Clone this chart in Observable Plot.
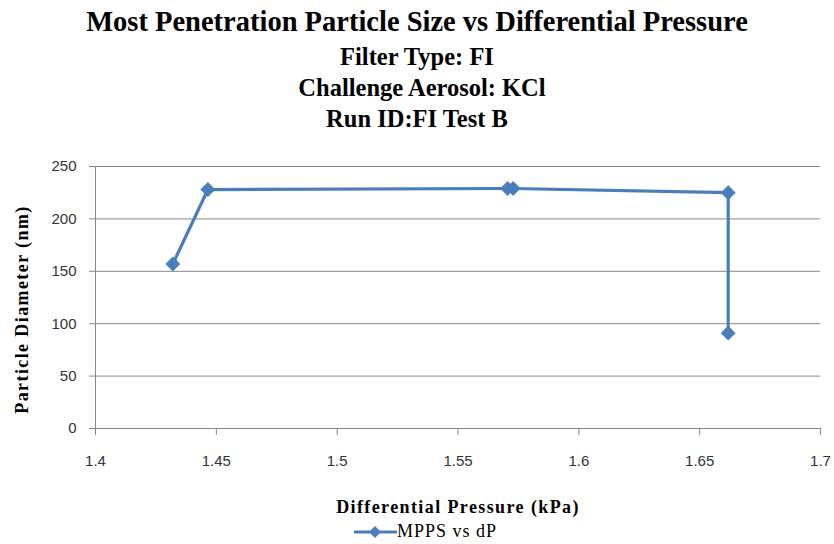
<!DOCTYPE html>
<html>
<head>
<meta charset="utf-8">
<script src="https://cdn.jsdelivr.net/npm/d3@7"></script>
<script src="https://cdn.jsdelivr.net/npm/@observablehq/plot@0.6"></script>
<style>
  html, body { margin: 0; padding: 0; background: #fff; }
  #wrap { position: relative; width: 834px; height: 544px; overflow: hidden; }
  .t { position: absolute; left: 0; width: 834px; text-align: center; font-family: "Liberation Serif", "Times New Roman", serif; font-weight: bold; color: #000; white-space: nowrap; }
  #chart { position: absolute; left: 0; top: 140px; }
  #legend { position: absolute; top: 521px; left: 353px; font-family: "Liberation Serif", serif; font-size: 18px; letter-spacing: 1px; color: #000; display: flex; align-items: center; }
</style>
</head>
<body>
<div id="wrap">
  <div class="t" id="title" style="top:6px;font-size:28.5px;">Most Penetration Particle Size vs Differential Pressure</div>
  <div class="t" id="s1" style="top:43px;font-size:24.5px;">Filter Type: FI</div>
  <div class="t" id="s2" style="top:74px;font-size:24.5px;left:5px;">Challenge Aerosol: KCl</div>
  <div class="t" id="s3" style="top:105px;font-size:24.5px;">Run ID:FI Test B</div>
  <div id="chart"></div>
  <div id="legend"></div>
</div>
<script>
// Data
const dP = [1.432, 1.4465, 1.5705, 1.5728, 1.6618, 1.6618];      // kPa
const mpps = [157, 228, 229, 229, 225, 91];                         // nm
const xTicks = [1.4, 1.45, 1.5, 1.55, 1.6, 1.65, 1.7];
const yTicks = [0, 50, 100, 150, 200, 250];
const seriesName = "MPPS vs dP";
const xLabel = "Differential Pressure (kPa)";
const yLabel = "Particle Diameter (nm)";

const data = dP.map((x, i) => ({x, y: mpps[i]}));
const blue = "#4A7EBB";
const grid = "#878787";

const chart = Plot.plot({
  width: 834,
  height: 390,
  marginLeft: 95,
  marginRight: 14,
  marginTop: 26,
  marginBottom: 102,
  style: {fontFamily: "Liberation Sans, Arial, sans-serif", fontSize: "15px", color: "#333", background: "#fff", overflow: "visible"},
  x: {domain: [1.4, 1.7], ticks: xTicks, tickFormat: d => String(d)},
  y: {domain: [0, 250], ticks: yTicks},
  marks: [
    Plot.gridY(yTicks, {stroke: grid, strokeOpacity: 1, strokeWidth: 1}),
    Plot.axisY(yTicks, {tickSize: 6, tickPadding: 13, stroke: grid, label: null, fill: "#333"}),
    Plot.axisX(xTicks, {tickSize: 7, tickPadding: 20, stroke: grid, label: null, fill: "#333", tickFormat: d => String(d)}),
    Plot.ruleX([1.4], {stroke: grid}),
    Plot.ruleY([0], {stroke: grid}),
    Plot.line(data, {x: "x", y: "y", stroke: blue, strokeWidth: 3.2}),
    Plot.dot(data, {x: "x", y: "y", symbol: "diamond2", r: 6.5, fill: blue, stroke: blue, strokeWidth: 0.5}),
    Plot.text([yLabel], {frameAnchor: "left", dx: -73, dy: 12, rotate: -90, text: d => d, textAnchor: "middle", fontFamily: "Liberation Serif, serif", fontWeight: "bold", fontSize: 18, fill: "#000", lineAnchor: "middle"}),
    Plot.text([xLabel], {frameAnchor: "bottom", dy: 79, text: d => d, textAnchor: "middle", fontFamily: "Liberation Serif, serif", fontWeight: "bold", fontSize: 18, fill: "#000", lineAnchor: "middle"})
  ]
});
// wider letter spacing for axis titles, as in the reference
chart.querySelectorAll("text").forEach(t => {
  if (t.textContent === xLabel || t.textContent === yLabel) t.setAttribute("letter-spacing", "1.4");
});
document.getElementById("chart").appendChild(chart);

// Legend
const leg = document.getElementById("legend");
leg.innerHTML = `<svg width="44" height="14" style="margin-right:0px"><line x1="1" y1="7" x2="44" y2="7" stroke="${blue}" stroke-width="3.2"/><path d="M22,1 L28,7 L22,13 L16,7 Z" fill="${blue}"/></svg><span>${seriesName}</span>`;
</script>
</body>
</html>
